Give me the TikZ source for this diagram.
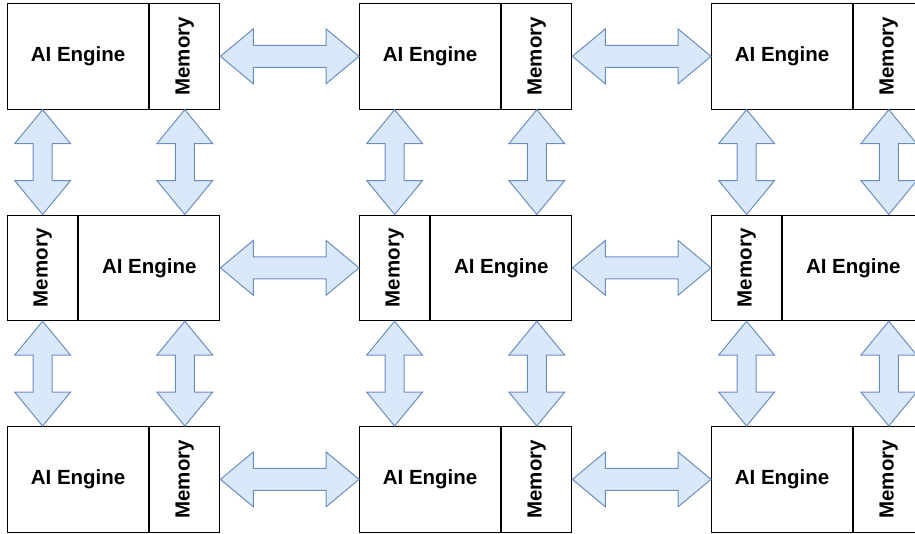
\documentclass[tikz,border=0pt]{standalone}
\usepackage{fontspec}
\setmainfont{Liberation Sans}
\usetikzlibrary{calc}
\definecolor{arrfill}{HTML}{DAE8FC}
\definecolor{arrdraw}{HTML}{6C8EBF}
\tikzset{
  box/.style={draw=black, line width=1.2pt, fill=white, inner sep=0pt, minimum height=105.5pt,
    font=\fontsize{20.5}{24}\selectfont\bfseries},
  aibox/.style={box, minimum width=141pt},
  membox/.style={box, minimum width=70pt},
  arr/.style={draw=arrdraw, fill=arrfill, line width=1pt, line join=miter},
}
% horizontal double arrow between two points (left tip, right tip)
\newcommand\hdarrow[2]{%
  \draw[arr] let \p1=(#1), \p2=(#2) in
    (\x1,\y1) -- ({\x1+33pt},{\y1+27.5pt}) -- ({\x1+33pt},{\y1+11pt})
    -- ({\x2-33pt},{\y1+11pt}) -- ({\x2-33pt},{\y1+27.5pt}) -- (\x2,\y1)
    -- ({\x2-33pt},{\y1-27.5pt}) -- ({\x2-33pt},{\y1-11pt})
    -- ({\x1+33pt},{\y1-11pt}) -- ({\x1+33pt},{\y1-27.5pt}) -- cycle;}
% vertical double arrow: top anchor, bottom anchor, anchor giving x
\newcommand\vdarrow[3]{%
  \draw[arr] let \p1=(#1), \p2=(#2), \p3=(#3) in
    (\x3,\y1) -- ({\x3+28pt},{\y1-34pt}) -- ({\x3+9.5pt},{\y1-34pt})
    -- ({\x3+9.5pt},{\y2+34pt}) -- ({\x3+28pt},{\y2+34pt}) -- (\x3,\y2)
    -- ({\x3-28pt},{\y2+34pt}) -- ({\x3-9.5pt},{\y2+34pt})
    -- ({\x3-9.5pt},{\y1-34pt}) -- ({\x3-28pt},{\y1-34pt}) -- cycle;}
\begin{document}
\begin{tikzpicture}[x=1pt, y=-1pt]
\useasboundingbox (0,0) rectangle (915,533);
\clip (0,0) rectangle (915,533);
\foreach \c/\cx in {1/7, 2/359, 3/711} {
  \node[aibox, anchor=north west] (ai1\c) at (\cx,3) {AI Engine};
  \node[membox, anchor=north west] (m1\c) at (ai1\c.north east) {\rotatebox{90}{Memory}};
  \node[membox, anchor=north west] (m2\c) at (\cx,214.5) {\rotatebox{90}{Memory}};
  \node[aibox, anchor=north west] (ai2\c) at (m2\c.north east) {AI Engine};
  \node[aibox, anchor=north west] (ai3\c) at (\cx,426) {AI Engine};
  \node[membox, anchor=north west] (m3\c) at (ai3\c.north east) {\rotatebox{90}{Memory}};
  % vertical arrows
  \vdarrow{ai1\c.south}{m2\c.north}{m2\c.north}
  \vdarrow{m1\c.south}{ai2\c.north}{m1\c.south}
  \vdarrow{m2\c.south}{ai3\c.north}{m2\c.south}
  \vdarrow{ai2\c.south}{m3\c.north}{m3\c.north}
}
% horizontal arrows
\hdarrow{m11.east}{ai12.west}
\hdarrow{m12.east}{ai13.west}
\hdarrow{ai21.east}{m22.west}
\hdarrow{ai22.east}{m23.west}
\hdarrow{m31.east}{ai32.west}
\hdarrow{m32.east}{ai33.west}
\end{tikzpicture}
\end{document}
